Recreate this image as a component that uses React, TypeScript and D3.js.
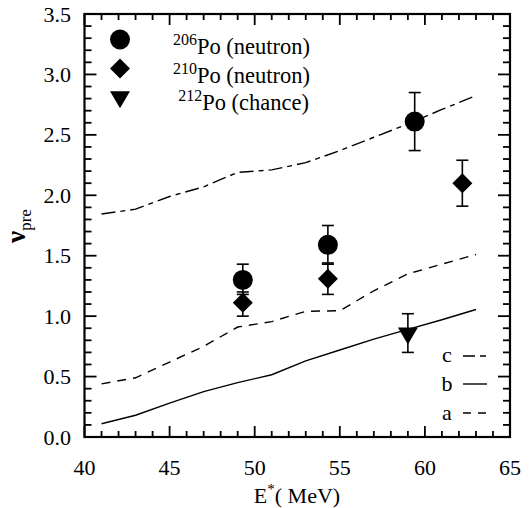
import React from "react";
import * as d3 from "d3";

const energies = [41, 43, 45, 47, 49, 51, 53, 55, 57, 59, 61, 63];
const curveA = [0.44, 0.49, 0.62, 0.75, 0.91, 0.955, 1.04, 1.045, 1.21, 1.35, 1.43, 1.51];
const curveB = [0.11, 0.18, 0.28, 0.375, 0.45, 0.515, 0.63, 0.72, 0.81, 0.89, 0.97, 1.055];
const curveC = [1.845, 1.885, 1.99, 2.07, 2.19, 2.21, 2.27, 2.37, 2.48, 2.59, 2.71, 2.825];

const po206E = [49.3, 54.3, 59.4];
const po206V = [1.30, 1.59, 2.61];
const po206Lo = [1.18, 1.44, 2.37];
const po206Hi = [1.43, 1.75, 2.85];

const po210E = [49.3, 54.3, 62.2];
const po210V = [1.11, 1.31, 2.10];
const po210Lo = [1.0, 1.18, 1.91];
const po210Hi = [1.2, 1.43, 2.29];

const po212E = [59.0];
const po212V = [0.86];
const po212Lo = [0.70];
const po212Hi = [1.02];

const xMajor = [40, 45, 50, 55, 60, 65];
const yMajor = [0, 0.5, 1, 1.5, 2, 2.5, 3, 3.5];

const W = 529, H = 508;
const L = 84.5, R = 510, T = 14, B = 437;
const FONT = "Liberation Serif, DejaVu Serif, serif";

export default function App() {
  const x = d3.scaleLinear().domain([40, 65]).range([L, R]);
  const y = d3.scaleLinear().domain([0, 3.5]).range([B, T]);
  const xMinor = d3.range(40, 65.001, 1);
  const yMinor = d3.range(0, 3.5001, 0.1);
  const line = d3.line<number>().x((_, i) => x(energies[i])).y((d) => y(d));

  const errBar = (e: number, lo: number, hi: number, k: string) => (
    <g key={k} stroke="#000" strokeWidth={1.6}>
      <line x1={x(e)} x2={x(e)} y1={y(lo)} y2={y(hi)} />
      <line x1={x(e) - 6} x2={x(e) + 6} y1={y(lo)} y2={y(lo)} />
      <line x1={x(e) - 6} x2={x(e) + 6} y1={y(hi)} y2={y(hi)} />
    </g>
  );
  const diamond = (cx: number, cy: number, r = 10) =>
    `M${cx},${cy - r}L${cx + r},${cy}L${cx},${cy + r}L${cx - r},${cy}Z`;
  const tri = (cx: number, cy: number, w = 20, h = 17) =>
    `M${cx - w / 2},${cy - h / 3}L${cx + w / 2},${cy - h / 3}L${cx},${cy + (2 * h) / 3}Z`;

  const isMajorX = (v: number) => Math.abs(v % 5) < 1e-6;
  const isMajorY = (v: number) => Math.abs(Math.round(v * 10) % 5) === 0;
  const ts = { fontFamily: FONT } as React.CSSProperties;

  return (
    <svg width={W} height={H} style={{ position: "absolute", left: 0, top: 0, background: "#fff", fontFamily: FONT }}>
      {/* curves */}
      <path d={line(curveC) || ""} fill="none" stroke="#000" strokeWidth={1.4} strokeDasharray="14,5,5,5" />
      <path d={line(curveB) || ""} fill="none" stroke="#000" strokeWidth={1.4} />
      <path d={line(curveA) || ""} fill="none" stroke="#000" strokeWidth={1.4} strokeDasharray="9,7" />

      {/* error bars */}
      {po206E.map((e, i) => errBar(e, po206Lo[i], po206Hi[i], "e206" + i))}
      {po210E.map((e, i) => errBar(e, po210Lo[i], po210Hi[i], "e210" + i))}
      {po212E.map((e, i) => errBar(e, po212Lo[i], po212Hi[i], "e212" + i))}

      {/* markers */}
      {po206E.map((e, i) => <circle key={"c" + i} cx={x(e)} cy={y(po206V[i])} r={10} fill="#000" />)}
      {po210E.map((e, i) => <path key={"d" + i} d={diamond(x(e), y(po210V[i]))} fill="#000" />)}
      {po212E.map((e, i) => <path key={"t" + i} d={tri(x(e), y(po212V[i]))} fill="#000" />)}

      {/* ticks */}
      <g stroke="#000" strokeWidth={1.8}>
        {xMinor.map((v) => {
          const len = isMajorX(v) ? 11 : 6;
          return (
            <g key={"xt" + v}>
              <line x1={x(v)} x2={x(v)} y1={B} y2={B - len} />
              <line x1={x(v)} x2={x(v)} y1={T} y2={T + len} />
            </g>
          );
        })}
        {yMinor.map((v) => {
          const len = isMajorY(v) ? 12 : 7;
          return (
            <g key={"yt" + v.toFixed(1)}>
              <line x1={L} x2={L + len} y1={y(v)} y2={y(v)} />
              <line x1={R} x2={R - len} y1={y(v)} y2={y(v)} />
            </g>
          );
        })}
      </g>
      <rect x={L} y={T} width={R - L} height={B - T} fill="none" stroke="#000" strokeWidth={2.2} />

      {/* tick labels */}
      {xMajor.map((v) => (
        <text key={"xl" + v} style={ts} x={x(v)} y={475} fontSize={22} textAnchor="middle">{v}</text>
      ))}
      {yMajor.map((v) => (
        <text key={"yl" + v} style={ts} x={71} y={y(v) + 7.5} fontSize={22} textAnchor="end">{v.toFixed(1)}</text>
      ))}

      {/* axis titles */}
      <text style={ts} x={297} y={503} fontSize={22} textAnchor="middle">
        <tspan>E</tspan>
        <tspan fontSize={15} dy={-9}>*</tspan>
        <tspan dy={9}>( MeV)</tspan>
      </text>
      <text style={ts} transform="translate(25,226) rotate(-90)" fontSize={27} fontWeight="bold" textAnchor="middle">
        <tspan>ν</tspan>
        <tspan fontSize={17} fontWeight="normal" dy={6}>pre</tspan>
      </text>

      {/* legend top-left */}
      <circle cx={120} cy={39.5} r={10} fill="#000" />
      <path d={diamond(120, 68.5)} fill="#000" />
      <path d={tri(120, 97)} fill="#000" />
      <text style={ts} x={310} y={54} fontSize={22.5} textAnchor="end">
        <tspan fontSize={16} dy={-9}>206</tspan>
        <tspan dy={9}>Po (neutron)</tspan>
      </text>
      <text style={ts} x={310} y={83} fontSize={22.5} textAnchor="end">
        <tspan fontSize={16} dy={-9}>210</tspan>
        <tspan dy={9}>Po (neutron)</tspan>
      </text>
      <text style={ts} x={309} y={110} fontSize={22.5} textAnchor="end">
        <tspan fontSize={16} dy={-9}>212</tspan>
        <tspan dy={9}>Po (chance)</tspan>
      </text>

      {/* legend bottom-right */}
      <text style={ts} x={447} y={362} fontSize={22} textAnchor="middle">c</text>
      <line x1={463} x2={487} y1={356} y2={356} stroke="#000" strokeWidth={1.4} strokeDasharray="12,5,6,5" />
      <text style={ts} x={447} y={391} fontSize={22} textAnchor="middle">b</text>
      <line x1={463} x2={487} y1={384} y2={384} stroke="#000" strokeWidth={1.4} />
      <text style={ts} x={447} y={420} fontSize={22} textAnchor="middle">a</text>
      <line x1={463} x2={487} y1={413} y2={413} stroke="#000" strokeWidth={1.4} strokeDasharray="8,7" />
    </svg>
  );
}
